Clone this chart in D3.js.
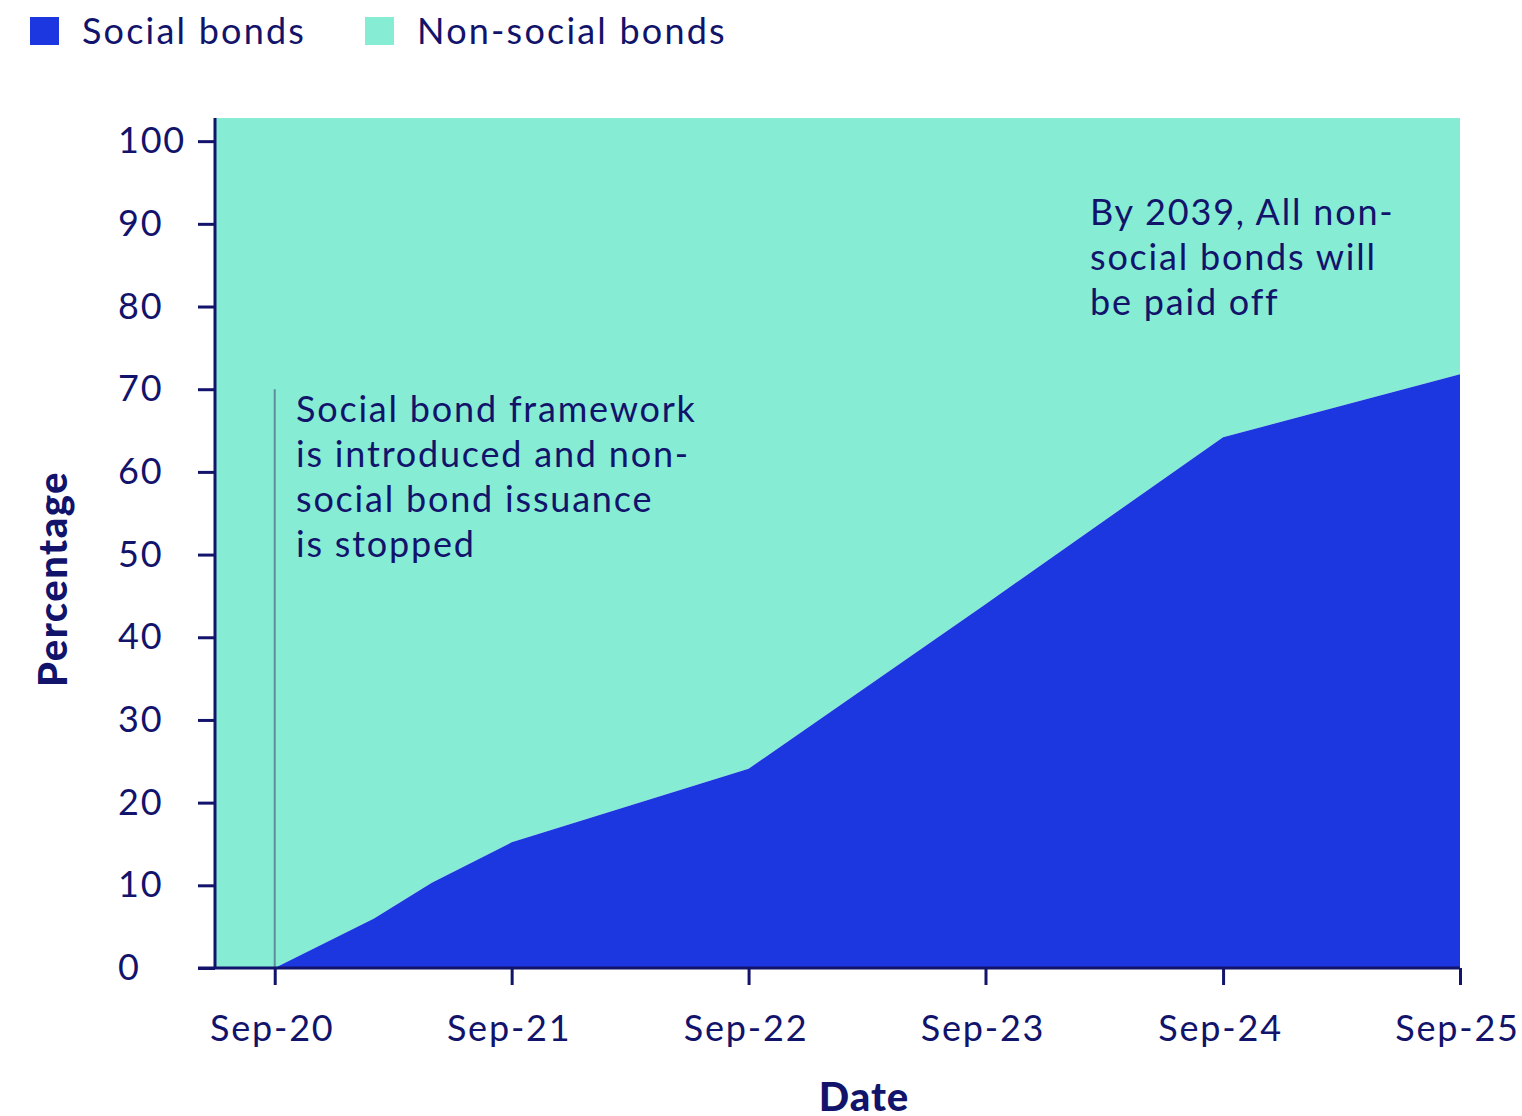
<!DOCTYPE html>
<html>
<head>
<meta charset="utf-8">
<script src="https://cdn.jsdelivr.net/npm/d3@7"></script>
<style>
  body { margin: 0; background: #fff; }
  text { font-family: Lato, "Open Sans", sans-serif; fill: #12136b; letter-spacing: 1.8px; }
</style>
</head>
<body>
<div id="chart"></div>
<script>
// data
var dates = ["2020-06", "2020-09", "2021-02", "2021-05", "2021-09", "2022-09", "2023-09", "2024-09", "2025-09"];
var social = [0, 0, 6.0, 10.3, 15.2, 24.1, 44.0, 64.2, 71.8];
var nonSocial = [100, 100, 94.0, 89.7, 84.8, 75.9, 56.0, 35.8, 28.2];
var yTicks = [0, 10, 20, 30, 40, 50, 60, 70, 80, 90, 100];
var xTicks = ["2020-09", "2021-09", "2022-09", "2023-09", "2024-09", "2025-09"];
var seriesNames = ["Social bonds", "Non-social bonds"];
var colors = ["#1c36e0", "#87ecd4"];

var parse = d3.timeParse("%Y-%m");
var data = dates.map(function(d, i) {
  return { date: parse(d), social: social[i], nonSocial: nonSocial[i] };
});

var width = 1522, height = 1116;
var margin = { top: 118, right: 62, bottom: 148, left: 215 };
var innerW = width - margin.left - margin.right,
    innerH = height - margin.top - margin.bottom;

var svg = d3.select("#chart")
  .append("svg")
    .attr("width", width)
    .attr("height", height);

var g = svg.append("g")
  .attr("transform", "translate(" + margin.left + "," + margin.top + ")");

var x = d3.scaleTime()
  .domain(d3.extent(data, function(d) { return d.date; }))
  .range([0, innerW]);

// top of frame sits a little above the 100 tick
var y = d3.scaleLinear()
  .domain([0, 102.8])
  .range([innerH, 0]);

// non-social band fills from the social line to the top of the frame
g.append("path")
  .datum(data)
  .attr("fill", colors[1])
  .attr("d", d3.area()
    .x(function(d) { return x(d.date); })
    .y0(function(d) { return y(d.social); })
    .y1(function() { return y(y.domain()[1]); }));

g.append("path")
  .datum(data)
  .attr("fill", colors[0])
  .attr("d", d3.area()
    .x(function(d) { return x(d.date); })
    .y0(y(0))
    .y1(function(d) { return y(d.social); }));

// annotation marker at Sep-20
var start = parse("2020-09");
g.append("line")
  .attr("x1", x(start)).attr("x2", x(start))
  .attr("y1", y(70)).attr("y2", y(0))
  .attr("stroke", "#5f8d9e")
  .attr("stroke-width", 2);

// axes
var yAxis = g.append("g")
  .call(d3.axisLeft(y).tickValues(yTicks).tickSize(17).tickPadding(10));

var xAxis = g.append("g")
  .attr("transform", "translate(0," + innerH + ")")
  .call(d3.axisBottom(x)
    .tickValues(xTicks.map(parse))
    .tickFormat(d3.timeFormat("%b-%y"))
    .tickSize(17).tickPadding(30));

[yAxis, xAxis].forEach(function(a) {
  a.select(".domain").remove();
  a.selectAll(".tick line").attr("stroke", "#12136b").attr("stroke-width", 3);
  a.selectAll(".tick text")
    .attr("font-size", 36)
    .attr("fill", "#12136b")
    .style("font-family", "Lato, 'Open Sans', sans-serif");
});
xAxis.selectAll(".tick text").attr("dx", -3);
// y labels are left aligned in the original
yAxis.selectAll(".tick text")
  .attr("text-anchor", "start")
  .attr("x", -97);

// axis lines
g.append("line")
  .attr("x1", 0).attr("x2", 0)
  .attr("y1", 0).attr("y2", innerH)
  .attr("stroke", "#12136b").attr("stroke-width", 3);
g.append("line")
  .attr("x1", -17).attr("x2", innerW)
  .attr("y1", innerH).attr("y2", innerH)
  .attr("stroke", "#12136b").attr("stroke-width", 3);

// axis titles
svg.append("text")
  .attr("transform", "translate(67," + (margin.top + 461) + ") rotate(-90)")
  .attr("text-anchor", "middle")
  .attr("font-size", 40)
  .attr("font-weight", 900)
  .style("letter-spacing", "1.5px")
  .text("Percentage");

svg.append("text")
  .attr("x", 864)
  .attr("y", 1111)
  .attr("text-anchor", "middle")
  .attr("font-size", 40)
  .attr("font-weight", 900)
  .style("letter-spacing", "1px")
  .text("Date");

// annotations
var note1 = ["Social bond framework", "is introduced and non-", "social bond issuance", "is stopped"];
var note2 = ["By 2039, All non-", "social bonds will", "be paid off"];

svg.append("text")
  .attr("x", 296).attr("y", 422)
  .attr("font-size", 36)
  .selectAll("tspan")
  .data(note1)
  .enter().append("tspan")
    .attr("x", 296)
    .attr("dy", function(d, i) { return i ? 45 : 0; })
    .text(function(d) { return d; });

svg.append("text")
  .attr("x", 1090).attr("y", 225)
  .attr("font-size", 36)
  .selectAll("tspan")
  .data(note2)
  .enter().append("tspan")
    .attr("x", 1090)
    .attr("dy", function(d, i) { return i ? 45 : 0; })
    .text(function(d) { return d; });

// legend
var legendX = [30, 365];
var legend = svg.selectAll(".legend")
  .data(seriesNames)
  .enter().append("g")
    .attr("class", "legend")
    .attr("transform", function(d, i) { return "translate(" + legendX[i] + ",17)"; });

legend.append("rect")
  .attr("width", 29).attr("height", 28)
  .attr("fill", function(d, i) { return colors[i]; });

legend.append("text")
  .attr("x", 52).attr("y", 27)
  .attr("font-size", 36)
  .style("letter-spacing", "2.2px")
  .text(function(d) { return d; });
</script>
</body>
</html>
